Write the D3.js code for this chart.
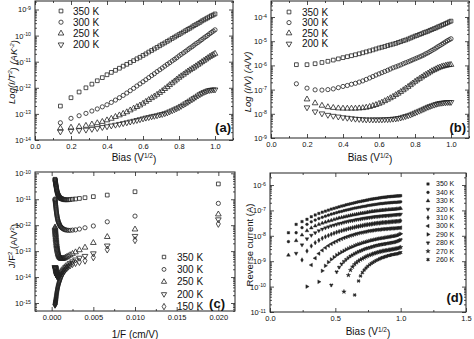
<!DOCTYPE html>
<html>
<head>
<meta charset="utf-8">
<script src="https://cdn.jsdelivr.net/npm/d3@7"></script>
<style>
body { margin: 0; background: #fff; }
text { font-family: "Liberation Sans", Arial, sans-serif; fill: #111; }
</style>
</head>
<body>
<div id="vis"></div>
<script>
const w = 474;
const h = 339;

// sqrt of the applied bias (V^1/2), shared by panels a, b, d
const bias = [0.141, 0.200, 0.245, 0.283, 0.316, 0.346, 0.374, 0.400, 0.424, 0.447,
    0.469, 0.490, 0.510, 0.529, 0.548, 0.566, 0.583, 0.600, 0.616, 0.632,
    0.648, 0.663, 0.678, 0.693, 0.707, 0.721, 0.735, 0.748, 0.762, 0.775,
    0.787, 0.800, 0.812, 0.825, 0.837, 0.849, 0.860, 0.872, 0.883, 0.894,
    0.906, 0.917, 0.927, 0.938, 0.949, 0.959, 0.970, 0.980, 0.990, 1.000];

// 1/F (cm/V) for panel c
const invF = [0.02, 0.01, 0.00667, 0.005, 0.004, 0.00333, 0.00286, 0.0025, 0.00222, 0.002,
    0.00182, 0.00167, 0.00154, 0.00143, 0.00133, 0.00125, 0.00118, 0.00111, 0.00105, 0.001,
    0.000952, 0.000909, 0.00087, 0.000833, 0.0008, 0.000769, 0.000741, 0.000714, 0.00069, 0.000667,
    0.000645, 0.000625, 0.000606, 0.000588, 0.000571, 0.000556, 0.000541, 0.000526, 0.000513, 0.0005,
    0.000488, 0.000476, 0.000465, 0.000455, 0.000444, 0.000435, 0.000426, 0.000417, 0.000408, 0.0004];

// all values below are log10 of the plotted quantity
// (a) I/T^2
const a350 = [-12.70, -12.38, -12.16, -12.00, -11.86, -11.73, -11.61, -11.50, -11.41, -11.33,
    -11.25, -11.17, -11.10, -11.03, -10.96, -10.89, -10.83, -10.76, -10.70, -10.63,
    -10.57, -10.51, -10.45, -10.39, -10.33, -10.28, -10.22, -10.17, -10.11, -10.06,
    -10.01, -9.96, -9.91, -9.86, -9.81, -9.76, -9.72, -9.67, -9.62, -9.58,
    -9.53, -9.49, -9.44, -9.40, -9.36, -9.32, -9.28, -9.24, -9.21, -9.17];
const a300 = [-13.34, -13.17, -13.07, -12.98, -12.89, -12.81, -12.73, -12.65, -12.56, -12.47,
    -12.38, -12.29, -12.20, -12.11, -12.02, -11.93, -11.85, -11.77, -11.69, -11.61,
    -11.53, -11.46, -11.38, -11.31, -11.24, -11.17, -11.10, -11.04, -10.97, -10.91,
    -10.85, -10.78, -10.72, -10.66, -10.60, -10.54, -10.48, -10.43, -10.37, -10.31,
    -10.26, -10.20, -10.15, -10.09, -10.04, -9.99, -9.93, -9.88, -9.83, -9.78];
const a250 = [-13.55, -13.52, -13.49, -13.45, -13.40, -13.35, -13.30, -13.24, -13.18, -13.11,
    -13.05, -12.99, -12.93, -12.86, -12.79, -12.73, -12.67, -12.60, -12.53, -12.46,
    -12.39, -12.33, -12.26, -12.19, -12.12, -12.04, -11.97, -11.89, -11.82, -11.75,
    -11.68, -11.61, -11.55, -11.49, -11.43, -11.37, -11.32, -11.27, -11.22, -11.17,
    -11.11, -11.06, -11.01, -10.96, -10.91, -10.86, -10.81, -10.77, -10.73, -10.69];
const a200 = [-13.68, -13.65, -13.63, -13.61, -13.58, -13.55, -13.51, -13.48, -13.45, -13.42,
    -13.39, -13.36, -13.33, -13.30, -13.27, -13.24, -13.21, -13.18, -13.15, -13.13,
    -13.10, -13.08, -13.06, -13.03, -13.01, -12.98, -12.95, -12.91, -12.87, -12.83,
    -12.79, -12.75, -12.70, -12.65, -12.60, -12.55, -12.50, -12.45, -12.40, -12.35,
    -12.30, -12.25, -12.21, -12.17, -12.14, -12.11, -12.09, -12.08, -12.07, -12.07];

// (b) I/V
const b350 = [-5.97, -5.97, -5.93, -5.88, -5.83, -5.78, -5.73, -5.68, -5.64, -5.60,
    -5.56, -5.52, -5.48, -5.44, -5.40, -5.36, -5.32, -5.28, -5.25, -5.22,
    -5.18, -5.15, -5.12, -5.09, -5.05, -5.02, -4.98, -4.95, -4.91, -4.87,
    -4.83, -4.79, -4.76, -4.72, -4.69, -4.65, -4.62, -4.59, -4.55, -4.52,
    -4.48, -4.45, -4.41, -4.38, -4.34, -4.31, -4.27, -4.24, -4.20, -4.17];
const b300 = [-6.76, -6.94, -7.01, -7.02, -7.00, -6.97, -6.92, -6.87, -6.83, -6.78,
    -6.74, -6.69, -6.64, -6.58, -6.52, -6.46, -6.40, -6.35, -6.30, -6.25,
    -6.20, -6.15, -6.10, -6.06, -6.02, -5.98, -5.93, -5.89, -5.85, -5.81,
    -5.77, -5.73, -5.69, -5.65, -5.61, -5.57, -5.52, -5.48, -5.43, -5.38,
    -5.33, -5.28, -5.23, -5.18, -5.13, -5.08, -5.03, -4.98, -4.94, -4.90];
const b250 = [null, -7.40, -7.56, -7.66, -7.72, -7.75, -7.77, -7.78, -7.78, -7.78,
    -7.78, -7.77, -7.76, -7.74, -7.71, -7.67, -7.63, -7.58, -7.53, -7.47,
    -7.41, -7.35, -7.29, -7.22, -7.16, -7.09, -7.02, -6.95, -6.88, -6.81,
    -6.74, -6.67, -6.61, -6.55, -6.49, -6.43, -6.38, -6.33, -6.28, -6.23,
    -6.19, -6.15, -6.11, -6.08, -6.05, -6.03, -6.01, -5.99, -5.98, -5.97];
const b200 = [null, -7.74, -7.91, -7.99, -8.05, -8.09, -8.12, -8.15, -8.17, -8.19,
    -8.21, -8.22, -8.23, -8.24, -8.24, -8.24, -8.24, -8.24, -8.24, -8.23,
    -8.23, -8.22, -8.21, -8.20, -8.18, -8.16, -8.13, -8.10, -8.07, -8.04,
    -8.00, -7.96, -7.92, -7.88, -7.84, -7.80, -7.76, -7.72, -7.69, -7.66,
    -7.63, -7.60, -7.58, -7.56, -7.55, -7.54, -7.53, -7.52, -7.52, -7.52];

// (c) J/F^2
const c350 = [-10.41, -10.71, -10.84, -10.90, -10.94, -10.97, -10.99, -11.00, -11.01, -11.02,
    -11.02, -11.02, -11.02, -11.01, -11.00, -10.99, -10.98, -10.97, -10.96, -10.95,
    -10.93, -10.91, -10.89, -10.87, -10.85, -10.83, -10.81, -10.78, -10.76, -10.73,
    -10.70, -10.67, -10.64, -10.61, -10.58, -10.55, -10.52, -10.49, -10.46, -10.43,
    -10.41, -10.38, -10.36, -10.34, -10.32, -10.30, -10.28, -10.26, -10.25, -10.23];
const c300 = [-11.16, -11.65, -11.87, -12.03, -12.10, -12.15, -12.18, -12.19, -12.20, -12.20,
    -12.19, -12.18, -12.17, -12.15, -12.13, -12.11, -12.09, -12.07, -12.05, -12.02,
    -11.99, -11.96, -11.93, -11.90, -11.87, -11.84, -11.80, -11.77, -11.73, -11.69,
    -11.65, -11.61, -11.57, -11.53, -11.49, -11.45, -11.41, -11.37, -11.33, -11.29,
    -11.25, -11.22, -11.18, -11.15, -11.12, -11.09, -11.06, -11.04, -11.01, -10.99];
const c250 = [-11.58, -12.16, -12.45, -12.68, -12.86, -12.96, -13.04, -13.10, -13.15, -13.19,
    -13.22, -13.25, -13.27, -13.28, -13.29, -13.29, -13.29, -13.28, -13.27, -13.25,
    -13.23, -13.21, -13.18, -13.15, -13.12, -13.09, -13.05, -13.01, -12.97, -12.93,
    -12.89, -12.85, -12.80, -12.76, -12.71, -12.67, -12.62, -12.57, -12.53, -12.48,
    -12.44, -12.39, -12.35, -12.31, -12.27, -12.23, -12.19, -12.15, -12.11, -12.08];
const c200 = [-11.78, -12.42, -12.79, -13.09, -13.19, -13.26, -13.33, -13.40, -13.46, -13.52,
    -13.57, -13.62, -13.67, -13.71, -13.75, -13.79, -13.83, -13.86, -13.89, -13.92,
    -13.94, -13.96, -13.98, -13.99, -14.00, -14.00, -14.00, -13.99, -13.98, -13.97,
    -13.96, -13.94, -13.92, -13.90, -13.88, -13.86, -13.84, -13.81, -13.79, -13.76,
    -13.74, -13.72, -13.70, -13.68, -13.67, -13.66, -13.65, -13.64, -13.63, -13.62];
const c150 = [-11.95, -12.58, -12.94, -13.24, -13.37, -13.42, -13.46, -13.50, -13.55, -13.60,
    -13.65, -13.70, -13.75, -13.80, -13.85, -13.90, -13.95, -14.00, -14.05, -14.10,
    -14.14, -14.18, -14.22, -14.26, -14.30, -14.34, -14.38, -14.42, -14.46, -14.50,
    -14.54, -14.58, -14.62, -14.66, -14.70, -14.74, -14.78, -14.81, -14.84, -14.87,
    -14.90, -14.92, -14.94, -14.96, -14.98, -15.00, -15.02, -15.04, -15.05, -15.07];

// (d) reverse current
const d350 = [-7.88, -7.55, -7.44, -7.35, -7.25, -7.18, -7.12, -7.07, -7.03, -6.99,
    -6.95, -6.92, -6.89, -6.86, -6.83, -6.81, -6.78, -6.76, -6.74, -6.72,
    -6.70, -6.68, -6.66, -6.65, -6.63, -6.62, -6.60, -6.59, -6.57, -6.56,
    -6.55, -6.54, -6.53, -6.52, -6.51, -6.50, -6.49, -6.48, -6.48, -6.47,
    -6.46, -6.46, -6.45, -6.45, -6.44, -6.44, -6.43, -6.43, -6.43, -6.42];
const d340 = [-8.23, -7.88, -7.68, -7.55, -7.45, -7.38, -7.32, -7.27, -7.23, -7.19,
    -7.15, -7.12, -7.09, -7.06, -7.04, -7.01, -6.99, -6.97, -6.95, -6.93,
    -6.91, -6.90, -6.88, -6.87, -6.85, -6.84, -6.83, -6.81, -6.80, -6.79,
    -6.78, -6.77, -6.76, -6.75, -6.74, -6.73, -6.73, -6.72, -6.71, -6.71,
    -6.70, -6.70, -6.69, -6.69, -6.68, -6.68, -6.68, -6.67, -6.67, -6.66];
const d330 = [-8.76, -8.19, -7.97, -7.80, -7.69, -7.61, -7.55, -7.50, -7.46, -7.42,
    -7.39, -7.36, -7.33, -7.30, -7.28, -7.26, -7.24, -7.22, -7.20, -7.18,
    -7.17, -7.15, -7.14, -7.12, -7.11, -7.10, -7.09, -7.07, -7.06, -7.05,
    -7.04, -7.03, -7.02, -7.02, -7.01, -7.00, -6.99, -6.99, -6.98, -6.98,
    -6.97, -6.97, -6.96, -6.96, -6.95, -6.95, -6.94, -6.94, -6.93, -6.92];
const d320 = [null, -8.69, -8.36, -8.12, -7.98, -7.88, -7.80, -7.74, -7.69, -7.65,
    -7.61, -7.58, -7.55, -7.52, -7.50, -7.47, -7.45, -7.43, -7.41, -7.40,
    -7.38, -7.36, -7.35, -7.34, -7.32, -7.31, -7.30, -7.29, -7.28, -7.27,
    -7.26, -7.25, -7.24, -7.24, -7.23, -7.22, -7.22, -7.21, -7.21, -7.20,
    -7.20, -7.19, -7.19, -7.18, -7.18, -7.17, -7.17, -7.16, -7.16, -7.15];
const d310 = [null, null, -8.95, -8.60, -8.40, -8.27, -8.18, -8.10, -8.04, -7.99,
    -7.94, -7.90, -7.86, -7.83, -7.80, -7.77, -7.75, -7.72, -7.70, -7.68,
    -7.66, -7.64, -7.63, -7.61, -7.60, -7.58, -7.57, -7.56, -7.55, -7.54,
    -7.53, -7.52, -7.51, -7.50, -7.50, -7.49, -7.48, -7.48, -7.47, -7.47,
    -7.46, -7.46, -7.45, -7.45, -7.44, -7.44, -7.43, -7.43, -7.42, -7.41];
const d300 = [null, null, null, null, -9.15, -8.88, -8.70, -8.57, -8.47, -8.39,
    -8.32, -8.26, -8.21, -8.16, -8.12, -8.08, -8.05, -8.02, -7.99, -7.97,
    -7.94, -7.92, -7.90, -7.88, -7.87, -7.85, -7.84, -7.82, -7.81, -7.80,
    -7.79, -7.78, -7.77, -7.76, -7.76, -7.75, -7.74, -7.74, -7.73, -7.73,
    -7.72, -7.72, -7.71, -7.71, -7.71, -7.70, -7.70, -7.69, -7.69, -7.68];
const d290 = [null, null, null, -10.00, null, null, -9.81, -9.38, -9.18, -9.04,
    -8.93, -8.84, -8.76, -8.70, -8.64, -8.59, -8.54, -8.50, -8.46, -8.43,
    -8.39, -8.36, -8.33, -8.31, -8.28, -8.26, -8.24, -8.22, -8.20, -8.18,
    -8.17, -8.15, -8.14, -8.12, -8.11, -8.10, -8.09, -8.08, -8.07, -8.06,
    -8.05, -8.04, -8.03, -8.02, -8.01, -8.00, -7.99, -7.97, -7.95, -7.92];
const d280 = [null, null, null, null, null, null, null, null, null, null,
    -9.94, null, -9.42, -9.24, -9.11, -9.01, -8.93, -8.86, -8.80, -8.75,
    -8.70, -8.66, -8.62, -8.59, -8.56, -8.53, -8.50, -8.48, -8.46, -8.44,
    -8.42, -8.40, -8.38, -8.37, -8.35, -8.34, -8.33, -8.32, -8.31, -8.30,
    -8.29, -8.28, -8.27, -8.26, -8.25, -8.24, -8.22, -8.20, -8.18, -8.15];
const d270 = [null, null, null, null, null, null, null, null, null, null,
    null, null, null, null, null, -10.20, null, -9.55, -9.35, -9.22,
    -9.12, -9.05, -8.99, -8.94, -8.90, -8.86, -8.82, -8.79, -8.76, -8.74,
    -8.71, -8.69, -8.67, -8.65, -8.63, -8.62, -8.60, -8.59, -8.58, -8.57,
    -8.56, -8.55, -8.54, -8.53, -8.52, -8.51, -8.50, -8.49, -8.47, -8.45];
const d260 = [null, null, null, null, null, null, null, null, null, null,
    null, null, null, null, null, null, null, null, null, null,
    -10.33, null, -9.78, -9.58, -9.45, -9.35, -9.27, -9.20, -9.14, -9.09,
    -9.05, -9.01, -8.97, -8.94, -8.91, -8.88, -8.86, -8.84, -8.82, -8.80,
    -8.78, -8.77, -8.75, -8.74, -8.73, -8.72, -8.71, -8.70, -8.68, -8.66];

const labelsABC = ['350 K', '300 K', '250 K', '200 K', '150 K'];
const labelsD = ['350 K', '340 K', '330 K', '320 K', '310 K', '300 K', '290 K', '280 K', '270 K', '260 K'];

const svg = d3.select('#vis')
    .append('svg')
    .attr('width', w)
    .attr('height', h);

const shapes = {
    square: [d3.symbolSquare, 0],
    circle: [d3.symbolCircle, 0],
    up: [d3.symbolTriangle, 0],
    down: [d3.symbolTriangle, 180],
    diamond: [d3.symbolDiamond, 0],
    left: [d3.symbolTriangle, -90],
    right: [d3.symbolTriangle, 90],
    star: [d3.symbolStar, 0],
    cross: [d3.symbolCross, 45],
    wye: [d3.symbolWye, 0]
};

function drawMark(g, kind, cx, cy, size, filled) {
    const s = shapes[kind];
    g.append('path')
        .attr('d', d3.symbol(s[0], size)())
        .attr('transform', `translate(${cx},${cy}) rotate(${s[1]})`)
        .attr('fill', filled ? '#222' : 'none')
        .attr('stroke', '#222')
        .attr('stroke-width', filled ? 0.4 : 0.8);
}

function supLabel(sel) {
    sel.each(function(d) {
        const t = d3.select(this);
        t.text('10');
        t.append('tspan')
            .attr('dy', '-0.45em')
            .attr('font-size', '0.7em')
            .text(Math.round(Math.log10(d)));
    });
}

function panel(cfg) {
    const g = svg.append('g');
    const x = d3.scaleLinear().domain(cfg.xDomain).range([cfg.left, cfg.right]);
    const y = d3.scaleLog().domain(cfg.yDomain).range(cfg.yRange);

    const decades = [];
    const minors = [];
    const e0 = Math.round(Math.log10(cfg.yDomain[0]));
    for (let e = e0 - 1; e <= e0 + 8; e++) {
        const v = Math.pow(10, e);
        if (y(v) <= cfg.bottom + 0.5 && y(v) >= cfg.top - 0.5) decades.push(v);
        for (let m = 2; m < 10; m++) {
            const mv = m * v;
            if (y(mv) < cfg.bottom && y(mv) > cfg.top) minors.push(mv);
        }
    }
    const xMinor = cfg.xMinor.filter(v => cfg.xTicks.indexOf(v) < 0);

    // minor ticks on all four sides
    g.append('g').attr('transform', `translate(${cfg.left},0)`)
        .call(d3.axisLeft(y).tickValues(minors).tickSize(-2).tickSizeOuter(0).tickFormat(''));
    g.append('g').attr('transform', `translate(${cfg.right},0)`)
        .call(d3.axisRight(y).tickValues(minors).tickSize(-2).tickSizeOuter(0).tickFormat(''));
    g.append('g').attr('transform', `translate(0,${cfg.bottom})`)
        .call(d3.axisBottom(x).tickValues(xMinor).tickSize(-2).tickSizeOuter(0).tickFormat(''));
    g.append('g').attr('transform', `translate(0,${cfg.top})`)
        .call(d3.axisTop(x).tickValues(xMinor).tickSize(-2).tickSizeOuter(0).tickFormat(''));

    // major ticks
    const yl = g.append('g').attr('transform', `translate(${cfg.left},0)`)
        .call(d3.axisLeft(y).tickValues(decades).tickSize(-4).tickSizeOuter(0).tickPadding(4));
    yl.selectAll('.tick text').call(supLabel);
    g.append('g').attr('transform', `translate(${cfg.right},0)`)
        .call(d3.axisRight(y).tickValues(decades).tickSize(-4).tickSizeOuter(0).tickFormat(''));
    g.append('g').attr('transform', `translate(0,${cfg.bottom})`)
        .call(d3.axisBottom(x).tickValues(cfg.xTicks).tickSize(-4).tickSizeOuter(0).tickPadding(4)
            .tickFormat(d3.format(cfg.xFormat)));
    g.append('g').attr('transform', `translate(0,${cfg.top})`)
        .call(d3.axisTop(x).tickValues(cfg.xTicks).tickSize(-4).tickSizeOuter(0).tickFormat(''));

    g.selectAll('.domain').remove();
    g.selectAll('.tick line').attr('stroke', '#222').attr('stroke-width', 0.8);
    g.selectAll('.tick text').attr('font-size', 7.5).attr('font-family', '"Liberation Sans", Arial, sans-serif');

    g.append('rect')
        .attr('x', cfg.left).attr('y', cfg.top)
        .attr('width', cfg.right - cfg.left).attr('height', cfg.bottom - cfg.top)
        .attr('fill', 'none').attr('stroke', '#222').attr('stroke-width', 1);

    // data
    const clip = 'clip' + cfg.id;
    g.append('clipPath').attr('id', clip).append('rect')
        .attr('x', cfg.left).attr('y', cfg.top)
        .attr('width', cfg.right - cfg.left).attr('height', cfg.bottom - cfg.top);
    const pts = g.append('g').attr('clip-path', `url(#${clip})`);
    cfg.series.forEach(s => {
        s.values.forEach((v, i) => {
            if (v === null) return;
            drawMark(pts, s.shape, x(cfg.xs[i]), y(Math.pow(10, v)), cfg.markSize, cfg.filled);
        });
    });

    // legend
    cfg.series.forEach((s, i) => {
        const ly = cfg.legend.y + i * cfg.legend.dy;
        drawMark(g, s.shape, cfg.legend.x, ly, cfg.legend.size, cfg.filled);
        g.append('text')
            .attr('x', cfg.legend.x + cfg.legend.gap)
            .attr('y', ly)
            .attr('dy', '0.35em')
            .attr('font-size', cfg.legend.font)
            .text(s.label);
    });

    // panel tag
    g.append('text')
        .attr('x', cfg.tag.x).attr('y', cfg.tag.y)
        .attr('text-anchor', 'end')
        .attr('font-size', 13)
        .attr('font-weight', 'bold')
        .text(cfg.tag.text);

    // x title
    const xt = g.append('text')
        .attr('x', cfg.xTitle.x).attr('y', cfg.xTitle.y)
        .attr('text-anchor', 'middle')
        .attr('font-size', 10);
    cfg.xTitle.parts.forEach(p => {
        const ts = xt.append('tspan').text(p[0]);
        if (p[1] === 'sup') ts.attr('dy', '-0.45em').attr('font-size', '0.65em');
        if (p[1] === 'down') ts.attr('dy', '0.45em');
    });

    // y title
    const yt = g.append('text')
        .attr('transform', `translate(${cfg.yTitle.x},${cfg.yTitle.y}) rotate(-90)`)
        .attr('text-anchor', 'middle')
        .attr('font-size', 9.5)
        .attr('font-style', cfg.yTitle.italic ? 'italic' : 'normal');
    cfg.yTitle.parts.forEach(p => {
        const ts = yt.append('tspan').text(p[0]);
        if (p[1] === 'sup') ts.attr('dy', '-0.45em').attr('font-size', '0.65em');
        if (p[1] === 'down') ts.attr('dy', '0.45em');
    });
}

const biasTitle = [['Bias (V'], ['1/2', 'sup'], [')', 'down']];

panel({
    id: 'a', left: 35, right: 233, top: 1, bottom: 140,
    xDomain: [0, 1.1], xTicks: [0, 0.2, 0.4, 0.6, 0.8, 1.0], xMinor: [0.1, 0.3, 0.5, 0.7, 0.9, 1.1], xFormat: '.1f',
    yDomain: [1e-14, 1e-9], yRange: [140, 9.5],
    xs: bias, markSize: 14, filled: false,
    series: [
        {label: labelsABC[0], values: a350, shape: 'square'},
        {label: labelsABC[1], values: a300, shape: 'circle'},
        {label: labelsABC[2], values: a250, shape: 'up'},
        {label: labelsABC[3], values: a200, shape: 'down'}
    ],
    legend: {x: 61, y: 11, dy: 11.2, gap: 12, size: 14, font: 10},
    tag: {x: 231, y: 132, text: '(a)'},
    xTitle: {x: 134, y: 161, parts: biasTitle},
    yTitle: {x: 15, y: 72, italic: true, parts: [['Log(I/T'], ['2', 'sup'], [') (AK', 'down'], ['-2', 'sup'], [')', 'down']]}
});

panel({
    id: 'b', left: 271, right: 469, top: 1, bottom: 138,
    xDomain: [0, 1.1], xTicks: [0, 0.2, 0.4, 0.6, 0.8, 1.0], xMinor: [0.1, 0.3, 0.5, 0.7, 0.9, 1.1], xFormat: '.1f',
    yDomain: [1e-9, 1e-4], yRange: [138, 17],
    xs: bias, markSize: 14, filled: false,
    series: [
        {label: labelsABC[0], values: b350, shape: 'square'},
        {label: labelsABC[1], values: b300, shape: 'circle'},
        {label: labelsABC[2], values: b250, shape: 'up'},
        {label: labelsABC[3], values: b200, shape: 'down'}
    ],
    legend: {x: 289, y: 12, dy: 10.6, gap: 13, size: 14, font: 10},
    tag: {x: 466, y: 132, text: '(b)'},
    xTitle: {x: 370, y: 161, parts: biasTitle},
    yTitle: {x: 251, y: 82, italic: true, parts: [['Log (I/V) (A/V)']]}
});

panel({
    id: 'c', left: 35, right: 235, top: 172, bottom: 311,
    xDomain: [-0.002, 0.022], xTicks: [0, 0.005, 0.01, 0.015, 0.02], xMinor: [0.0025, 0.0075, 0.0125, 0.0175], xFormat: '.3f',
    yDomain: [1e-15, 1e-10], yRange: [303, 173.3],
    xs: invF, markSize: 14, filled: false,
    series: [
        {label: labelsABC[0], values: c350, shape: 'square'},
        {label: labelsABC[1], values: c300, shape: 'circle'},
        {label: labelsABC[2], values: c250, shape: 'up'},
        {label: labelsABC[3], values: c200, shape: 'down'},
        {label: labelsABC[4], values: c150, shape: 'diamond'}
    ],
    legend: {x: 164, y: 257, dy: 12.4, gap: 13, size: 12, font: 10},
    tag: {x: 225, y: 308, text: '(c)'},
    xTitle: {x: 135, y: 338, parts: [['1/F (cm/V)']]},
    yTitle: {x: 15, y: 246, italic: false, parts: [['J/F'], ['2', 'sup'], [' (A/V', 'down'], ['2', 'sup'], [')', 'down']]}
});

panel({
    id: 'd', left: 270, right: 466, top: 173, bottom: 312,
    xDomain: [0, 1.5], xTicks: [0, 0.5, 1.0, 1.5], xMinor: [0.25, 0.75, 1.25], xFormat: '.1f',
    yDomain: [1e-11, 1e-6], yRange: [312, 185],
    xs: bias, markSize: 6, filled: true,
    series: [
        {label: labelsD[0], values: d350, shape: 'square'},
        {label: labelsD[1], values: d340, shape: 'circle'},
        {label: labelsD[2], values: d330, shape: 'up'},
        {label: labelsD[3], values: d320, shape: 'down'},
        {label: labelsD[4], values: d310, shape: 'diamond'},
        {label: labelsD[5], values: d300, shape: 'left'},
        {label: labelsD[6], values: d290, shape: 'right'},
        {label: labelsD[7], values: d280, shape: 'wye'},
        {label: labelsD[8], values: d270, shape: 'star'},
        {label: labelsD[9], values: d260, shape: 'cross'}
    ],
    legend: {x: 428, y: 184, dy: 8.4, gap: 8, size: 6, font: 7},
    tag: {x: 463, y: 302, text: '(d)'},
    xTitle: {x: 368, y: 335, parts: biasTitle},
    yTitle: {x: 253, y: 245, italic: false, parts: [['Reverse current (A)']]}
});
</script>
</body>
</html>
